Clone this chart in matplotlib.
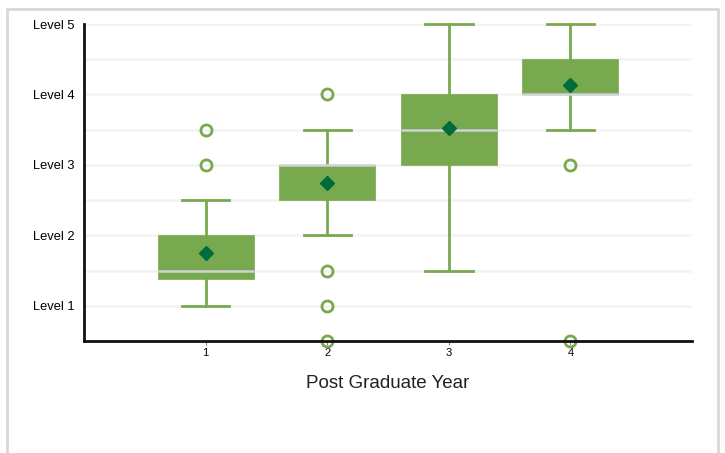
import matplotlib
matplotlib.use("Agg")
import matplotlib.pyplot as plt
from matplotlib.patches import Rectangle

plt.rcParams['font.family'] = ['Liberation Sans', 'DejaVu Sans']

# box stats per post graduate year
years = [1, 2, 3, 4]
q1 = [1.375, 2.5, 3.0, 4.0]
med = [1.5, 3.0, 3.5, 4.0]
q3 = [2.0, 3.0, 4.0, 4.5]
whislo = [1.0, 2.0, 1.5, 3.5]
whishi = [2.5, 3.5, 5.0, 5.0]
means = [1.75, 2.75, 3.53, 4.13]
fliers = [[3.0, 3.5], [4.0, 1.5, 1.0, 0.5], [], [3.0, 0.5]]
level_ticks = [1, 2, 3, 4, 5]
level_labels = ['Level 1', 'Level 2', 'Level 3', 'Level 4', 'Level 5']

green = '#79a94f'
dark = '#006b3c'

fig = plt.figure(figsize=(7.25, 4.53), dpi=100)
ax = fig.add_axes([0.1159, 0.2472, 0.8386, 0.6998])

stats = []
for i in range(len(years)):
    stats.append(dict(q1=q1[i], med=med[i], q3=q3[i], whislo=whislo[i],
                      whishi=whishi[i], mean=means[i], fliers=fliers[i],
                      label=str(years[i])))

bp = ax.bxp(stats, positions=years, widths=0.79, patch_artist=True,
            showmeans=True, capwidths=0.39,
            boxprops=dict(facecolor=green, edgecolor=green, linewidth=0.5),
            whiskerprops=dict(color=green, linewidth=2),
            capprops=dict(color=green, linewidth=2),
            medianprops=dict(color='#cfd3d6', linewidth=1.8),
            meanprops=dict(marker='D', markerfacecolor=dark, markeredgecolor=dark,
                           markersize=7),
            flierprops=dict(marker='o', markerfacecolor='none', markeredgecolor=green,
                            markeredgewidth=2, markersize=8))
for k in ['whiskers', 'caps', 'fliers', 'means', 'medians', 'boxes']:
    for a in bp[k]:
        a.set_clip_on(False)
        a.set_zorder(3)

ax.set_xlim(0, 5)
ax.set_ylim(0.5, 5.0)
ax.set_yticks(level_ticks)
ax.set_yticklabels(level_labels, fontsize=9.3)
ax.set_yticks([0.5, 1.5, 2.5, 3.5, 4.5], minor=True)
ax.tick_params(axis='y', which='both', length=0, pad=7)
ax.set_xticks(years)
ax.set_xticklabels([str(y) for y in years], fontsize=8)
ax.tick_params(axis='x', length=3, color='#888888', pad=2)
ax.grid(axis='y', which='both', color='#f3f3f3', linewidth=1.8)
ax.set_axisbelow(True)

for s in ['top', 'right']:
    ax.spines[s].set_visible(False)
for s in ['left', 'bottom']:
    ax.spines[s].set_color('#111111')
    ax.spines[s].set_linewidth(2)
    ax.spines[s].set_zorder(4)

ax.set_xlabel('Post Graduate Year', fontsize=13.5, labelpad=12, color='#222222')

# light frame around the chart
fig.patches.append(Rectangle((7 / 725, -0.05), 711 / 725, 1 - 9 / 453 + 0.05,
                             transform=fig.transFigure, fill=False,
                             edgecolor='#d8d8d8', linewidth=2))

fig.savefig('out.png', dpi=100)
